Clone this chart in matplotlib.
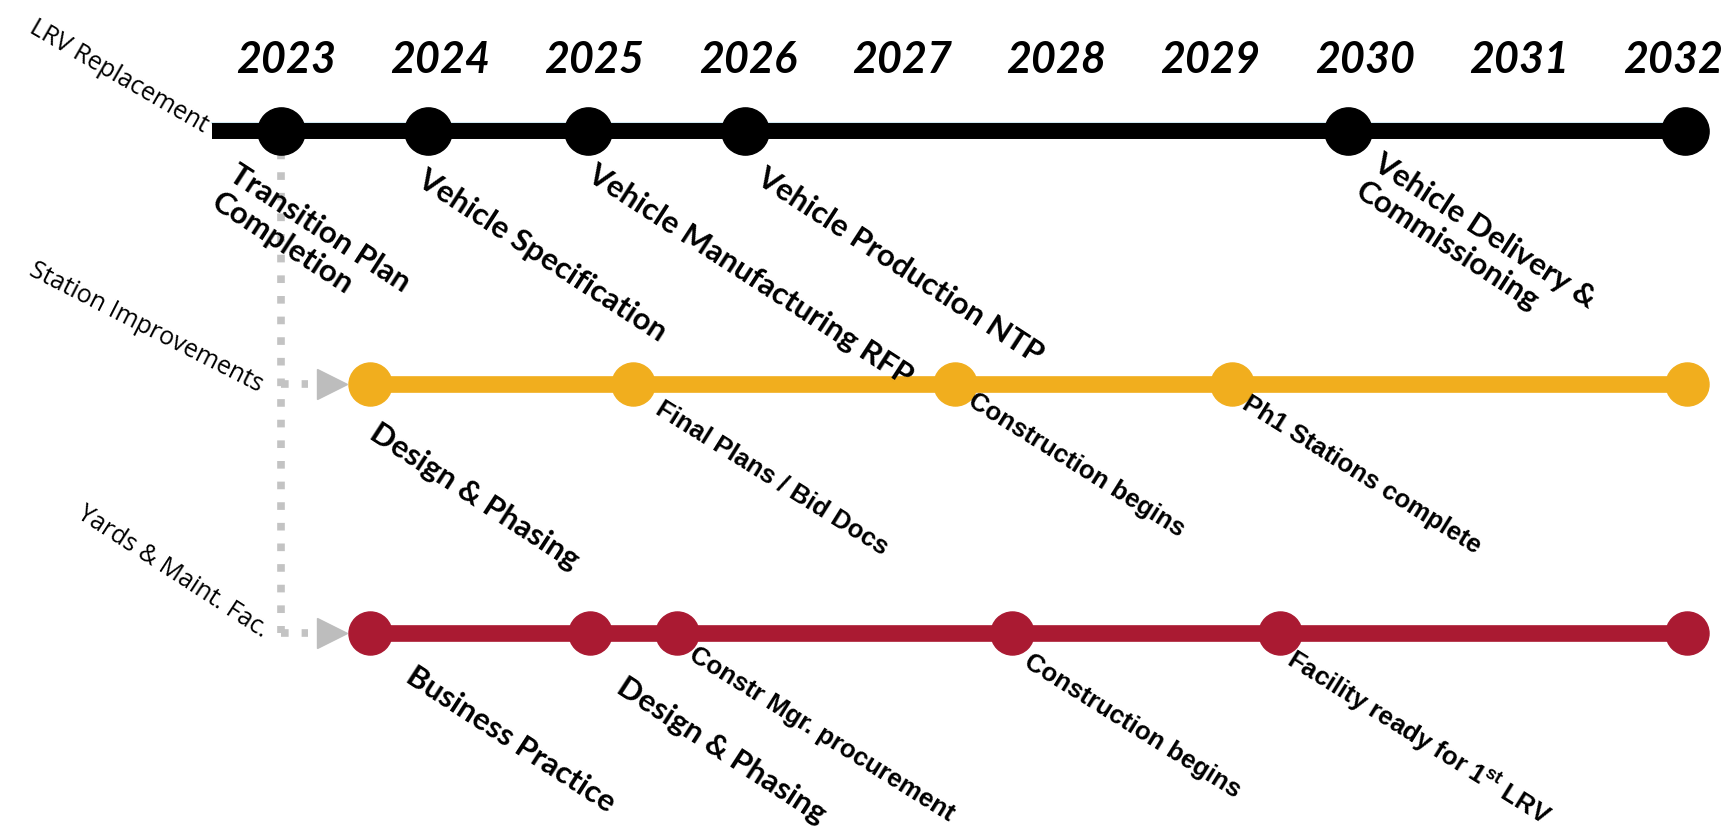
import matplotlib.pyplot as plt

plt.rcParams['mathtext.fontset'] = 'custom'
plt.rcParams['mathtext.rm'] = 'Liberation Sans:bold'
plt.rcParams['mathtext.it'] = 'Liberation Sans:bold'

# --- data -------------------------------------------------------------
years = list(range(2023, 2033))

series_names = ["LRV Replacement", "Station Improvements", "Yards & Maint. Fac."]

lrv_dates = [2022.97, 2023.92, 2024.96, 2025.98, 2029.89, 2032.08]
lrv_labels = ["Transition Plan\nCompletion", "Vehicle Specification",
              "Vehicle Manufacturing RFP", "Vehicle Production NTP",
              "Vehicle Delivery &\nCommissioning", ""]

station_dates = [2023.545, 2025.25, 2027.34, 2029.14, 2032.09]
station_labels = ["Design & Phasing", "Final Plans / Bid Docs",
                  "Construction begins", "Ph1 Stations complete", ""]

yards_dates = [2023.545, 2024.97, 2025.54, 2027.71, 2029.45, 2032.09]
yards_labels = ["Business Practice", "Design & Phasing",
                "Constr Mgr. procurement", "Construction begins",
                r"Facility ready for 1$^{st}$ LRV", ""]

# --- layout -----------------------------------------------------------
ROT = -33
row_y = [131, 384, 633]
colors = ["black", "#F1AE1E", "#AA1A32"]
dot_size = [34, 31, 31]

lrv_off = [(-42, 29), (0, 34), (9, 29), (21, 32), (36, 18), (0, 0)]
station_off = [(10, 35), (32, 12), (22, 5), (19, 8), (0, 0)]
yards_off = [(47, 29), (38, 40), (20, 10), (21, 17), (18, 10), (0, 0)]

# label fonts: calibri-like (Lato) or arial-like (Liberation Sans)
station_fonts = ["calibri", "arial", "arial", "arial", "arial"]
yards_fonts = ["calibri", "calibri", "arial", "arial", "arial", "arial"]

fig = plt.figure(figsize=(17.29, 8.35), dpi=100)
ax = fig.add_axes([0, 0, 1, 1])
ax.set_xlim(2021.144, 2032.364)
ax.set_ylim(835, 0)
ax.axis('off')

# year header
for yr in years:
    ax.text(yr, 73, str(yr), fontfamily='Lato', fontweight='bold',
            fontstyle='italic', fontsize=31, ha='center', va='baseline')

# grey connector from the first LRV milestone to the other two rows
gx = lrv_dates[0]
grey = '#c3c3c3'
ax.plot([gx, gx], [row_y[0], row_y[2]], color=grey, lw=5.5,
        ls=(0, (1, 1.7)), zorder=1)
for r in row_y[1:]:
    ax.plot([gx, gx + 0.17], [r, r], color=grey, lw=5.5,
            ls=(0, (1, 1.7)), zorder=1)
    ax.plot(gx + 0.33, r, marker='>', ms=22, color='#bdbdbd', zorder=1)


def label(x, y, txt, off, font):
    if not txt:
        return
    if font == "calibri":
        fam, fs, rot = 'Lato', 22.5, ROT
    else:
        fam, fs, rot = 'Liberation Sans', 18.5, ROT + 1
    ax.annotate(txt, xy=(x, y), xytext=(off[0], -off[1]),
                textcoords='offset pixels', rotation=rot,
                rotation_mode='anchor', ha='left', va='top',
                fontfamily=fam, fontweight='bold', fontsize=fs,
                linespacing=1.2)


# LRV row (thin light-blue edge on top, as in the original)
ax.plot([2022.52, lrv_dates[-1]], [row_y[0] - 8.5] * 2, color='#cfe9f3',
        lw=1.5, zorder=2)
ax.plot([2022.52, lrv_dates[-1]], [row_y[0]] * 2, color=colors[0],
        lw=11.5, solid_capstyle='butt', zorder=2)
ax.plot(lrv_dates, [row_y[0]] * len(lrv_dates), 'o', ms=dot_size[0],
        color=colors[0], zorder=3)
for d, t, o in zip(lrv_dates, lrv_labels, lrv_off):
    label(d, row_y[0], t, o, "calibri")

# station row
ax.plot([station_dates[0], station_dates[-1]], [row_y[1]] * 2,
        color=colors[1], lw=12, solid_capstyle='butt', zorder=2)
ax.plot(station_dates, [row_y[1]] * len(station_dates), 'o',
        ms=dot_size[1], color=colors[1], zorder=3)
for d, t, o, f in zip(station_dates, station_labels, station_off, station_fonts):
    label(d, row_y[1], t, o, f)

# yards row
ax.plot([yards_dates[0], yards_dates[-1]], [row_y[2]] * 2,
        color=colors[2], lw=12, solid_capstyle='butt', zorder=2)
ax.plot(yards_dates, [row_y[2]] * len(yards_dates), 'o',
        ms=dot_size[2], color=colors[2], zorder=3)
for d, t, o, f in zip(yards_dates, yards_labels, yards_off, yards_fonts):
    label(d, row_y[2], t, o, f)

# series names on the left
name_pos = [(203, 133), (258, 392), (262, 638)]
name_rot = [-30, -27, -33]
for n, (px_, py_), rt in zip(series_names, name_pos, name_rot):
    ax.annotate(n, xy=(0, 0), xycoords='figure pixels',
                xytext=(px_, 835 - py_), textcoords='figure pixels',
                rotation=rt, rotation_mode='anchor', ha='right',
                va='baseline', fontfamily='Open Sans', fontsize=18)

fig.savefig('out.png', dpi=100)
